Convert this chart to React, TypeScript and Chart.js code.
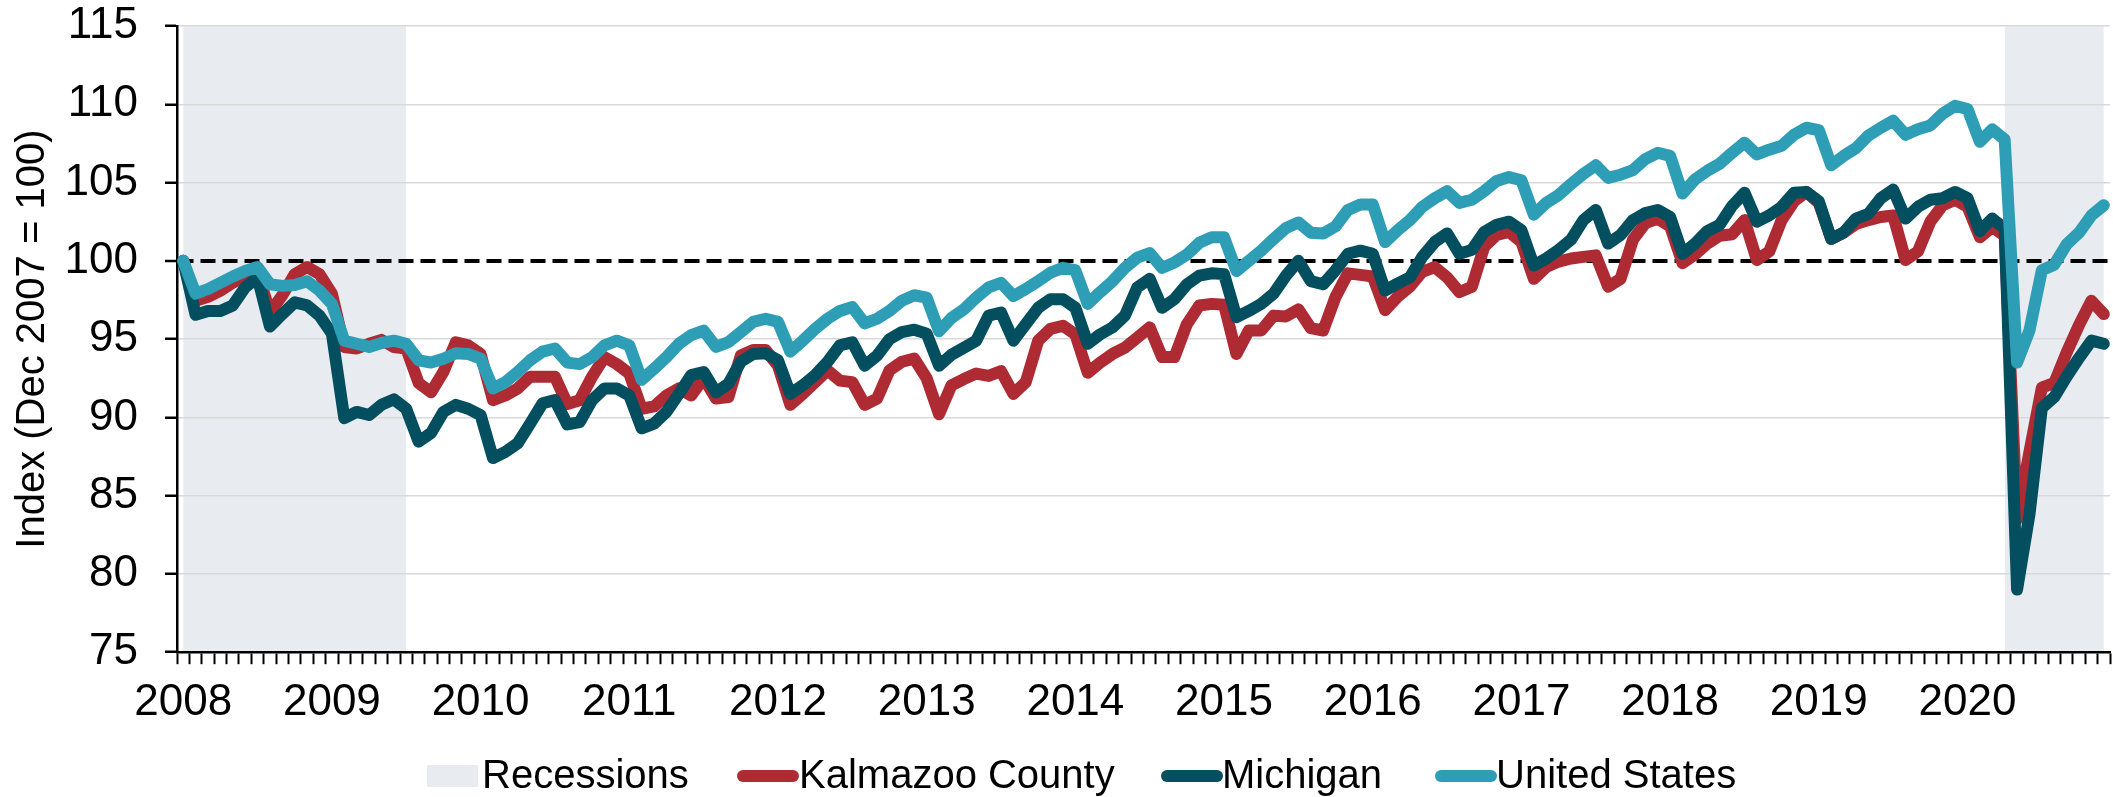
import React, { useEffect, useRef } from 'react';
import { Chart, registerables } from 'chart.js';

Chart.register(...registerables);

// ---------- DATA ----------
const FIRST_MONTH = { year: 2007, month: 11 }; // Dec 2007 (0-based month)
const MONTH_COUNT = 156; // Dec 2007 .. Nov 2020
const MONTH_NAMES = ['Jan', 'Feb', 'Mar', 'Apr', 'May', 'Jun', 'Jul', 'Aug', 'Sep', 'Oct', 'Nov', 'Dec'];

const YEAR_LABELS = ['2008', '2009', '2010', '2011', '2012', '2013', '2014', '2015', '2016', '2017', '2018', '2019', '2020'];

const Y_TICKS = { min: 75, max: 115, step: 5 };
const BASELINE = 100;

// recession shading spans (by category label)
const RECESSION_SPANS: [string, string][] = [
  ['Dec 2007', 'Jun 2009'],
  ['Mar 2020', 'Nov 2020'],
];

const KALAMAZOO = [
  100, 97.45, 97.7, 98.1, 98.6, 99.05, 99.3, 96.7, 97.8, 99.15, 99.6, 99.15,
  97.9, 94.5, 94.4, 94.7, 94.95, 94.5, 94.4, 92.2, 91.6, 92.9, 94.8, 94.6,
  94.05, 91.1, 91.4, 91.85, 92.6, 92.6, 92.6, 90.85, 91.1, 92.6, 93.85, 93.4,
  92.8, 90.55, 90.7, 91.4, 91.85, 91.4, 92.5, 91.2, 91.3, 93.95, 94.3, 94.3,
  93.3, 90.8, 91.5, 92.25, 93.0, 92.35, 92.25, 90.8, 91.2, 93.0, 93.55, 93.75,
  92.5, 90.2, 92.05, 92.45, 92.8, 92.65, 92.95, 91.5, 92.25, 94.9, 95.65, 95.85,
  95.3, 92.85, 93.5, 94.05, 94.45, 95.1, 95.75, 93.85, 93.85, 95.95, 97.15, 97.25,
  97.2, 94.05, 95.55, 95.55, 96.5, 96.45, 96.9, 95.7, 95.55, 97.7, 99.2, 99.1,
  99.0, 96.85, 97.7, 98.35, 99.3, 99.6, 98.95, 98.0, 98.35, 100.9, 101.65, 101.85,
  101.2, 98.85, 99.6, 99.95, 100.15, 100.25, 100.35, 98.35, 98.85, 101.35, 102.4, 102.7,
  102.2, 99.85, 100.4, 101.1, 101.6, 101.7, 102.6, 100.05, 100.6, 102.6, 103.8, 104.4,
  103.7, 101.4, 101.8, 102.35, 102.6, 102.8, 102.9, 100.05, 100.6, 102.5, 103.55, 103.9,
  103.45, 101.5, 102.15, 101.6, 83.5, 87.8, 91.9, 92.2, 94.15, 95.9, 97.45, 96.6,
];

const MICHIGAN = [
  100, 96.55, 96.8, 96.8, 97.15, 98.3, 98.95, 95.8, 96.6, 97.35, 97.15, 96.5,
  95.35, 89.95, 90.35, 90.15, 90.8, 91.15, 90.55, 88.45, 89.0, 90.35, 90.8, 90.55,
  90.15, 87.4, 87.8, 88.35, 89.6, 90.9, 91.1, 89.55, 89.7, 91.1, 91.85, 91.85,
  91.4, 89.3, 89.6, 90.35, 91.5, 92.7, 92.9, 91.6, 92.15, 93.55, 94.05, 94.1,
  93.65, 91.5, 92.05, 92.7, 93.55, 94.6, 94.8, 93.3, 93.95, 95.0, 95.45, 95.6,
  95.35, 93.3, 94.0, 94.45, 94.9, 96.5, 96.7, 94.9, 95.95, 97.0, 97.55, 97.55,
  97.0, 94.7, 95.3, 95.75, 96.5, 98.3, 98.85, 97.0, 97.55, 98.5, 99.05, 99.2,
  99.15, 96.4, 96.8, 97.25, 97.9, 99.05, 100.0, 98.7, 98.5, 99.4, 100.45, 100.65,
  100.45, 98.1, 98.55, 98.95, 100.25, 101.2, 101.75, 100.45, 100.7, 101.85, 102.3, 102.5,
  101.95, 99.7, 100.15, 100.7, 101.35, 102.6, 103.25, 101.1, 101.65, 102.6, 103.05, 103.25,
  102.8, 100.45, 101.1, 101.9, 102.3, 103.5, 104.35, 102.5, 102.9, 103.45, 104.35, 104.4,
  103.8, 101.4, 101.8, 102.7, 103.0, 104.0, 104.55, 102.7, 103.45, 103.9, 104.0, 104.4,
  104.0, 101.9, 102.7, 102.05, 79.0, 83.8, 90.6, 91.3, 92.6, 93.8, 94.9, 94.7,
];

const UNITED_STATES = [
  100, 97.9, 98.2, 98.6, 99.0, 99.35, 99.6, 98.5, 98.4, 98.45, 98.7, 98.1,
  97.25, 94.9, 94.7, 94.5, 94.75, 94.9, 94.7, 93.65, 93.5, 93.75, 94.1, 94.05,
  93.75, 91.85, 92.25, 92.9, 93.65, 94.2, 94.4, 93.5, 93.4, 93.85, 94.6, 94.9,
  94.6, 92.4, 93.1, 93.85, 94.7, 95.25, 95.55, 94.5, 94.8, 95.45, 96.1, 96.3,
  96.1, 94.2, 94.9, 95.65, 96.3, 96.8, 97.05, 96.0, 96.3, 96.8, 97.45, 97.8,
  97.65, 95.5, 96.35, 96.9, 97.65, 98.3, 98.6, 97.75, 98.2, 98.7, 99.25, 99.55,
  99.4, 97.25, 98.0, 98.7, 99.55, 100.2, 100.5, 99.55, 99.9, 100.4, 101.15, 101.5,
  101.5, 99.35, 100.0, 100.65, 101.4, 102.1, 102.45, 101.8, 101.75, 102.2, 103.25, 103.6,
  103.6, 101.2, 101.95, 102.6, 103.45, 104.0, 104.45, 103.7, 103.9, 104.45, 105.1, 105.35,
  105.15, 102.95, 103.7, 104.2, 104.9, 105.55, 106.1, 105.3, 105.5, 105.8, 106.5, 106.9,
  106.7, 104.3, 105.2, 105.75, 106.2, 106.9, 107.55, 106.8, 107.1, 107.35, 108.05, 108.5,
  108.35, 106.1, 106.7, 107.2, 108.0, 108.5, 108.95, 108.05, 108.4, 108.65, 109.4, 109.9,
  109.7, 107.6, 108.4, 107.75, 93.5, 95.55, 99.4, 99.75, 101.05, 101.8, 102.9, 103.55,
];

const COLORS = {
  kalamazoo: '#AF2B34',
  michigan: '#034E5F',
  us: '#2E9EB6',
  recession: '#E8ECF1',
  grid: '#D9D9D9',
};

// ---------- derived ----------
const CATEGORIES: string[] = [];
for (let k = 0; k < MONTH_COUNT; k++) {
  const m = (FIRST_MONTH.month + k) % 12;
  const y = FIRST_MONTH.year + Math.floor((FIRST_MONTH.month + k) / 12);
  CATEGORIES.push(`${MONTH_NAMES[m]} ${y}`);
}

const RECESSION_DATA: (number | null)[] = CATEGORIES.map(() => null);
RECESSION_SPANS.forEach(([a, b]) => {
  const s = CATEGORIES.indexOf(a);
  const e = CATEGORIES.indexOf(b);
  for (let k = s; k <= e; k++) RECESSION_DATA[k] = Y_TICKS.max;
});

const FONT = "'Liberation Sans', Arial, sans-serif";
const TICK_FONT_SIZE = 44;

const legendItems = [
  { label: 'Recessions', kind: 'box', color: COLORS.recession, swatchLeft: 427, textLeft: 482 },
  { label: 'Kalmazoo County', kind: 'line', color: COLORS.kalamazoo, swatchLeft: 737, textLeft: 799 },
  { label: 'Michigan', kind: 'line', color: COLORS.michigan, swatchLeft: 1161, textLeft: 1222 },
  { label: 'United States', kind: 'line', color: COLORS.us, swatchLeft: 1435, textLeft: 1496 },
];

export default function App() {
  const canvasRef = useRef<HTMLCanvasElement | null>(null);

  useEffect(() => {
    document.body.style.margin = '0';
    const canvas = canvasRef.current;
    if (!canvas) return;
    Chart.defaults.font.family = FONT;
    Chart.defaults.color = '#000';

    const lineCommon = {
      type: 'line' as const,
      pointRadius: 0,
      pointHoverRadius: 0,
      borderWidth: 12,
      borderJoinStyle: 'round' as const,
      borderCapStyle: 'round' as const,
      tension: 0,
      fill: false,
    };

    const chart = new Chart(canvas, {
      type: 'line',
      data: {
        labels: CATEGORIES,
        datasets: [
          { ...lineCommon, label: 'United States', data: UNITED_STATES, borderColor: COLORS.us, backgroundColor: COLORS.us, order: 1 },
          { ...lineCommon, label: 'Michigan', data: MICHIGAN, borderColor: COLORS.michigan, backgroundColor: COLORS.michigan, order: 2 },
          { ...lineCommon, label: 'Kalmazoo County', data: KALAMAZOO, borderColor: COLORS.kalamazoo, backgroundColor: COLORS.kalamazoo, order: 3 },
          {
            type: 'line',
            label: 'Recessions',
            data: RECESSION_DATA,
            borderColor: 'transparent',
            borderWidth: 0,
            backgroundColor: COLORS.recession,
            pointRadius: 0,
            fill: 'start',
            spanGaps: false,
            order: 4,
          },
        ],
      },
      options: {
        animation: false,
        responsive: true,
        maintainAspectRatio: false,
        events: [],
        layout: { padding: { top: 26, right: 3, bottom: 56, left: 0 } },
        plugins: {
          legend: { display: false },
          tooltip: { enabled: false },
          filler: { drawTime: 'beforeDraw' },
        },
        scales: {
          x: {
            type: 'category',
            offset: true,
            afterFit: (s: any) => {
              s.paddingLeft = 0;
              s.paddingRight = 0;
            },
            grid: {
              display: true,
              drawOnChartArea: false,
              drawTicks: true,
              tickLength: 12,
              tickColor: '#000',
              tickWidth: 2,
              offset: true,
            },
            border: { display: true, color: '#000', width: 2.5 },
            ticks: {
              autoSkip: false,
              maxRotation: 0,
              minRotation: 0,
              padding: 12,
              color: '#000',
              font: { size: TICK_FONT_SIZE, family: FONT },
              callback: (_v: any, i: number) => (i % 12 === 0 ? YEAR_LABELS[i / 12] ?? '' : ''),
            },
          },
          y: {
            min: Y_TICKS.min,
            max: Y_TICKS.max,
            afterFit: (s: any) => {
              s.paddingTop = 0;
              s.paddingBottom = 0;
              s.width = 177;
            },
            ticks: { stepSize: Y_TICKS.step, padding: 27, color: '#000', font: { size: TICK_FONT_SIZE, family: FONT } },
            grid: {
              color: (ctx: any) => (ctx.tick && ctx.tick.value === BASELINE ? '#000' : COLORS.grid),
              lineWidth: (ctx: any) => (ctx.tick && ctx.tick.value === BASELINE ? 4 : 1.5),
              tickColor: '#000',
              tickLength: 12,
              tickWidth: 2.5,
              tickBorderDash: [],
            },
            border: {
              display: true,
              color: '#000',
              width: 2.5,
              dash: (ctx: any) => (ctx.tick && ctx.tick.value === BASELINE ? [15, 7] : []),
            },
            title: {
              display: true,
              text: 'Index (Dec 2007 = 100)',
              color: '#000',
              font: { size: 40, family: FONT },
              padding: { top: 9, bottom: 13 },
            },
          },
        },
      },
    } as any);

    return () => chart.destroy();
  }, []);

  return (
    <div style={{ position: 'relative', width: 2113, height: 797, background: '#fff', overflow: 'hidden' }}>
      <canvas ref={canvasRef} style={{ display: 'block' }} />
      {legendItems.map((it) => (
        <React.Fragment key={it.label}>
          {it.kind === 'box' ? (
            <div style={{ position: 'absolute', left: it.swatchLeft, top: 765, width: 51, height: 22, background: it.color }} />
          ) : (
            <div style={{ position: 'absolute', left: it.swatchLeft, top: 770, width: 62, height: 12, borderRadius: 6, background: it.color }} />
          )}
          <div
            style={{
              position: 'absolute',
              left: it.textLeft,
              top: 754,
              fontFamily: FONT,
              fontSize: 40,
              lineHeight: '40px',
              color: '#000',
              whiteSpace: 'nowrap',
            }}
          >
            {it.label}
          </div>
        </React.Fragment>
      ))}
    </div>
  );
}
